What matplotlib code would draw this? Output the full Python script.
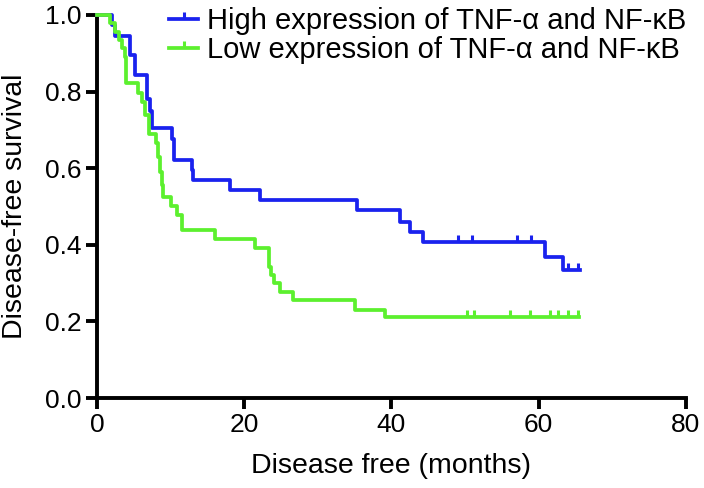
import numpy as np
import matplotlib
matplotlib.use('Agg')
import matplotlib.pyplot as plt
from matplotlib.lines import Line2D

# Kaplan-Meier steps (time in months, survival after each drop)
high_t = [0, 2.0, 2.4, 4.5, 5.1, 6.8, 7.2, 7.5, 10.2, 10.5, 12.9, 13.1, 18.1, 22.1,
          35.3, 41.2, 42.5, 44.3, 60.8, 63.3, 65.6]
high_s = [1.0, 0.973, 0.946, 0.895, 0.843, 0.78, 0.75, 0.705, 0.676, 0.622, 0.595, 0.57,
          0.543, 0.516, 0.49, 0.46, 0.433, 0.407, 0.368, 0.334, 0.334]
high_cens = [49.0, 50.9, 57.0, 58.9, 64.0, 65.3]

low_t = [0, 1.8, 2.5, 3.0, 3.35, 3.8, 4.0, 5.6, 6.1, 6.5, 7.0, 8.0, 8.3, 8.6, 8.8, 9.0,
         10.1, 10.8, 11.6, 16.0, 21.5, 23.3, 23.6, 24.0, 24.9, 26.6, 35.0, 39.1, 65.5]
low_s = [1.0, 0.978, 0.956, 0.935, 0.913, 0.891, 0.822, 0.796, 0.774, 0.739, 0.69, 0.666,
         0.63, 0.59, 0.555, 0.525, 0.50, 0.478, 0.439, 0.415, 0.392, 0.342, 0.321, 0.30,
         0.277, 0.256, 0.23, 0.211, 0.211]
low_cens = [50.3, 51.2, 56.1, 58.8, 61.5, 62.6, 64.0, 65.3]

labels = ['High expression of TNF-\u03b1 and NF-\u03baB',
          'Low expression of TNF-\u03b1 and NF-\u03baB']
colors = ['#1a22ee', '#5cf02e']

plt.rcParams['font.family'] = ['Liberation Sans', 'DejaVu Sans']

fig = plt.figure(figsize=(7.04, 4.88), dpi=100)
ax = fig.add_axes([0.1378, 0.1844, 0.8366, 0.7849])


def level_at(t, s, x):
    idx = np.searchsorted(t, x, side='right') - 1
    return np.array(s)[idx]


handles = []
for t, s, c, col in [(high_t, high_s, high_cens, colors[0]),
                     (low_t, low_s, low_cens, colors[1])]:
    ax.step(t, s, where='post', color=col, lw=2.7, clip_on=False, zorder=3)
    ax.plot(c, level_at(t, s, c), linestyle='none', marker=2, markersize=5,
            markeredgewidth=2.2, color=col, clip_on=False, zorder=3)
    handles.append(Line2D([], [], color=col, lw=2.7, marker=2, markersize=5,
                          markeredgewidth=2.2))

ax.set_xlim(0, 80)
ax.set_ylim(0, 1.0)
ax.set_xticks([0, 20, 40, 60, 80])
ax.set_yticks([0.0, 0.2, 0.4, 0.6, 0.8, 1.0])
ax.set_yticklabels(['0.0', '0.2', '0.4', '0.6', '0.8', '1.0'])

for side in ['top', 'right']:
    ax.spines[side].set_visible(False)
for side in ['left', 'bottom']:
    ax.spines[side].set_linewidth(2.8)
    ax.spines[side].set_capstyle('projecting')
ax.tick_params(direction='out', length=8, width=2.8, labelsize=19, pad=3)

ax.set_xlabel('Disease free (months)', fontsize=20.5, labelpad=11)
ax.set_ylabel('Disease-free survival', fontsize=20.5, labelpad=12)

ax.legend(handles, labels, loc='upper right', bbox_to_anchor=(1.045, 1.09),
          frameon=False, fontsize=21, handlelength=1.0, handletextpad=0.3,
          labelspacing=0.05, numpoints=1)

fig.savefig('out.png', dpi=100)
